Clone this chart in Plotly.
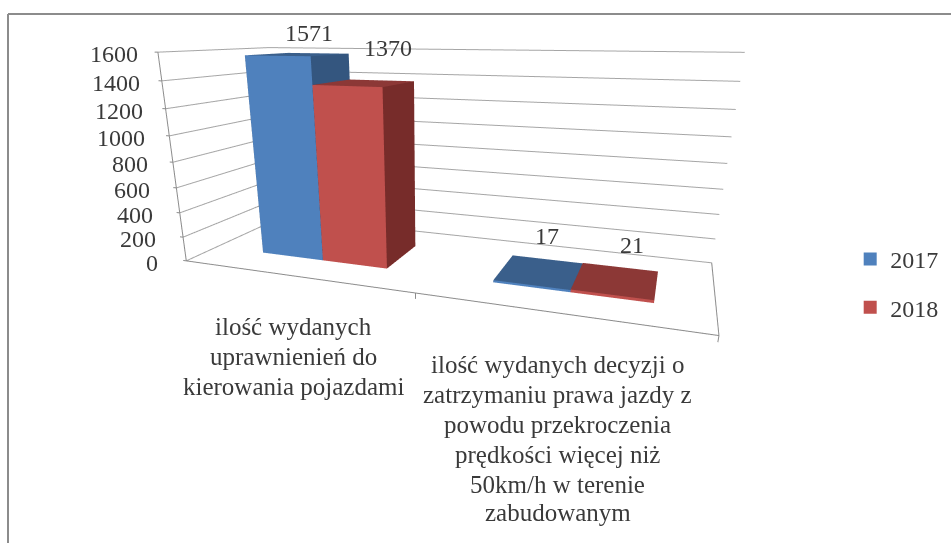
import plotly.graph_objects as go

# ---- data ----
category_lines = [
    ["ilość wydanych", "uprawnienień do", "kierowania pojazdami"],
    ["ilość wydanych decyzji o", "zatrzymaniu prawa jazdy z", "powodu przekroczenia",
     "prędkości więcej niż", "50km/h w terenie", "zabudowanym"],
]
series_names = ["2017", "2018"]
values_2017 = [1571, 17]
values_2018 = [1370, 21]
z_ticks = [0, 200, 400, 600, 800, 1000, 1200, 1400, 1600]

# ---- layout / styling ----
W, H = 951, 543
VIEW_W = 860
xr = [-0.06, 2.06]; yr = [-0.16, 1.03]; zr = [-60, 1640]
EYE = (0.9366, -2.7205, 0.5637); CENTER = (0.0691, -0.3761, -0.3561); UP = (0.0010, 0, 1)
ASPECT = (2.4818, 0.9956, 1)
BAR_X0, BAR_W, BAR_YF, BAR_YB = 0.2323, 0.2845, 0.2777, 0.7035

GRID = "#a6a6a6"; AXIS = "#8c8c8c"; TXT = "#3a3a3a"
FONT = "Liberation Serif"
TICK_DX = [-26, -25, -25, -24, -23, -22, -21, -20, -18]
CAT_DY = [[-51, -81, -111], [-52, -82, -112, -142, -172, -200]]
CAT_DX = [0, 2]
LAB_DX = [[10, 7], [23, 16]]
LAB_DY = [[6, 20], [20, 20]]

fig = go.Figure()

def box(xa, xb, ya, yb, zt, front, side, top, name):
    xs = [xa, xb, xb, xa, xa, xb, xb, xa]
    ys = [ya, ya, yb, yb, ya, ya, yb, yb]
    zs = [0, 0, 0, 0, zt, zt, zt, zt]
    i = [0, 0, 1, 1, 4, 4, 3, 3, 0, 0, 2, 2]
    j = [1, 5, 2, 6, 5, 6, 0, 4, 1, 2, 3, 7]
    k = [5, 4, 6, 5, 6, 7, 4, 7, 2, 3, 7, 6]
    fc = [front]*2 + [side]*2 + [top]*2 + [side]*2 + [front]*2 + [side]*2
    return go.Mesh3d(x=xs, y=ys, z=zs, i=i, j=j, k=k, facecolor=fc, flatshading=True, showlegend=False,
                     lighting=dict(ambient=1, diffuse=0, specular=0, fresnel=0, roughness=1),
                     hoverinfo="skip", name=name)

gx, gy, gz = [], [], []
for z in z_ticks:
    gx += [0, 0, 2, None]; gy += [0, 1, 1, None]; gz += [z, z, z, None]
fig.add_trace(go.Scatter3d(x=gx, y=gy, z=gz, mode="lines", line=dict(color=GRID, width=2),
                           showlegend=False, hoverinfo="skip"))

ax_x = [0, 0, None, 0, 2, 2, None, 1, 1, None, 2, 2]
ax_y = [0, 0, None, 0, 0, 1, None, 0, 0, None, 0, 0]
ax_z = [0, 1600, None, 0, 0, 0, None, 0, -45, None, 0, -45]
for z in z_ticks:
    ax_x += [None, -.015, 0]; ax_y += [None, 0, 0]; ax_z += [None, z, z]
fig.add_trace(go.Scatter3d(x=ax_x, y=ax_y, z=ax_z, mode="lines", line=dict(color=AXIS, width=2),
                           showlegend=False, hoverinfo="skip"))

for n in range(2):
    fig.add_trace(box(n+BAR_X0, n+BAR_X0+BAR_W, BAR_YF, BAR_YB, values_2017[n],
                      "#4f81bd", "#34567f", "#3a5f8b", series_names[0]))
    fig.add_trace(box(n+BAR_X0+BAR_W, n+BAR_X0+2*BAR_W, BAR_YF, BAR_YB, values_2018[n],
                      "#c0504d", "#772c2a", "#8c3836", series_names[1]))

for nm, col, grp in ((series_names[0], "#4f81bd", "a"), (series_names[1], "#c0504d", "b")):
    fig.add_trace(go.Scatter3d(x=[None], y=[None], z=[None], mode="markers", name=nm, legendgroup=grp,
                               marker=dict(size=13, color=col, symbol="square")))

anns = []
for z, dx in zip(z_ticks, TICK_DX):
    anns.append(dict(x=0, y=0, z=z, text=str(z), showarrow=False, xanchor="right", yanchor="middle",
                     xshift=dx, yshift=-2, font=dict(family=FONT, size=24, color=TXT)))
for n, lines in enumerate(category_lines):
    for line, dy in zip(lines, CAT_DY[n]):
        anns.append(dict(x=n+.5, y=0, z=0, text=line, showarrow=False, xanchor="center", yanchor="middle",
                         xshift=CAT_DX[n], yshift=dy, font=dict(family=FONT, size=25, color=TXT)))
for n in range(2):
    for s, (v, off) in enumerate(((values_2017[n], .5), (values_2018[n], 1.5))):
        anns.append(dict(x=n+BAR_X0+off*BAR_W, y=(BAR_YF+BAR_YB)/2, z=v, text=str(v), showarrow=False,
                         xanchor="center", yanchor="bottom", xshift=LAB_DX[s][n], yshift=LAB_DY[s][n],
                         font=dict(family=FONT, size=24, color=TXT)))

hid = dict(visible=False)
fig.update_layout(
    width=W, height=H, margin=dict(l=0, r=0, t=0, b=0), paper_bgcolor="white",
    font=dict(family=FONT, size=24, color=TXT),
    scene=dict(
        domain=dict(x=[0, VIEW_W/W], y=[0, 1]),
        xaxis=dict(range=xr, **hid), yaxis=dict(range=yr, **hid), zaxis=dict(range=zr, **hid),
        aspectmode="manual", aspectratio=dict(x=ASPECT[0], y=ASPECT[1], z=ASPECT[2]),
        camera=dict(eye=dict(x=EYE[0], y=EYE[1], z=EYE[2]),
                    center=dict(x=CENTER[0], y=CENTER[1], z=CENTER[2]),
                    up=dict(x=UP[0], y=UP[1], z=UP[2]), projection=dict(type="perspective")),
        annotations=anns),
    legend=dict(x=.894, y=.478, xanchor="left", yanchor="middle", tracegroupgap=14,
                bgcolor="rgba(0,0,0,0)", font=dict(family=FONT, size=24, color=TXT)),
    shapes=[dict(type="line", xref="paper", yref="paper", x0=8/W, x1=1, y0=1-14/H, y1=1-14/H,
                 line=dict(color="#8c8c8c", width=2)),
            dict(type="line", xref="paper", yref="paper", x0=8/W, x1=8/W, y0=0, y1=1-14/H,
                 line=dict(color="#8c8c8c", width=2))])
fig.write_html("out.html", config=dict(displayModeBar=False), post_script="document.body.style.margin='0';")
